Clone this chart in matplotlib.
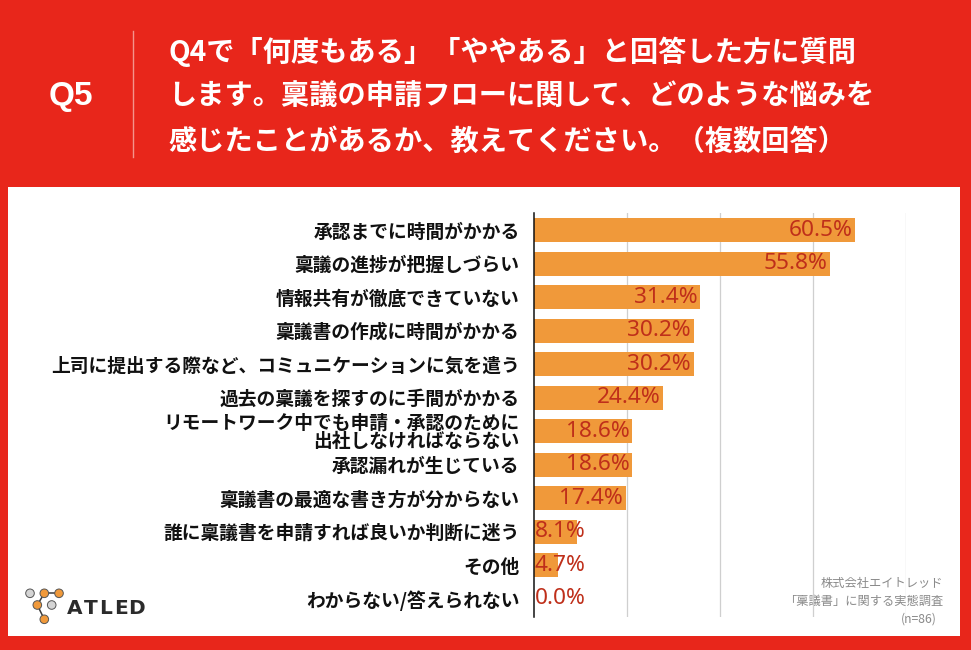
import matplotlib
matplotlib.use("Agg")
import matplotlib.pyplot as plt
from matplotlib.patches import Rectangle, Circle

plt.rcParams['font.family'] = ['Noto Sans CJK JP', 'DejaVu Sans']

categories = [
    "承認までに時間がかかる",
    "稟議の進捗が把握しづらい",
    "情報共有が徹底できていない",
    "稟議書の作成に時間がかかる",
    "上司に提出する際など、コミュニケーションに気を遣う",
    "過去の稟議を探すのに手間がかかる",
    "リモートワーク中でも申請・承認のために\n出社しなければならない",
    "承認漏れが生じている",
    "稟議書の最適な書き方が分からない",
    "誰に稟議書を申請すれば良いか判断に迷う",
    "その他",
    "わからない/答えられない",
]
values = [60.5, 55.8, 31.4, 30.2, 30.2, 24.4, 18.6, 18.6, 17.4, 8.1, 4.7, 0.0]
title_lines = [
    "Q4で「何度もある」「ややある」と回答した方に質問",
    "します。稟議の申請フローに関して、どのような悩みを",
    "感じたことがあるか、教えてください。（複数回答）",
]
source_lines = ["株式会社エイトレッド", "「稟議書」に関する実態調査", "(n=86)"]

W, H = 971, 650
RED = '#e8261b'
ORANGE = '#f0993a'
VAL_COLOR = '#bf2f1a'

fig = plt.figure(figsize=(W / 100, H / 100), dpi=100, facecolor=RED)

# background / decoration layer in pixel coordinates
bg = fig.add_axes([0, 0, 1, 1], zorder=0)
bg.set_xlim(0, W)
bg.set_ylim(H, 0)
bg.axis('off')
bg.add_patch(Rectangle((0, 0), W, H, facecolor=RED, edgecolor='none'))
bg.add_patch(Rectangle((8, 187), 952, 449, facecolor='white', edgecolor='none'))

# header
bg.text(71, 96, "Q5", color='white', fontsize=24, fontweight='bold',
        ha='center', va='center', family=['Liberation Sans', 'DejaVu Sans'])
bg.plot([133, 133], [31, 157], color='#f4948c', lw=1.0)
for i, line in enumerate(title_lines):
    bg.text(168, 52 + i * 45, line, color='white', fontsize=20.3,
            fontweight='bold', ha='left', va='center')

# logo
dark = '#3a3a3a'
bg.plot([44.3, 59], [593.3, 593.3], color=dark, lw=1.1, zorder=2)
bg.plot([44.3, 37.3, 44.3], [593.3, 605, 619.3], color=dark, lw=1.1, zorder=2)
for (cx, cy, fc) in [(30, 593.3, '#d4d4d4'), (44.3, 593.3, ORANGE), (59, 593.3, ORANGE),
                     (37.3, 605, ORANGE), (51.7, 605, '#d4d4d4'), (44.3, 619.3, ORANGE)]:
    bg.add_patch(Circle((cx, cy), 4.3, facecolor=fc, edgecolor='#555555', lw=0.7, zorder=3))
for i, ch in enumerate("ATLED"):
    bg.text(75 + i * 15.4, 609, ch, color='#2b2b2b', fontsize=14.5,
            ha='center', va='center', family=['DejaVu Sans'], fontweight='semibold')

# chart axes
x0, x1 = 533.5, 905.7
y0, y1 = 213, 617
ax = fig.add_axes([x0 / W, 1 - y1 / H, (x1 - x0) / W, (y1 - y0) / H], zorder=1)
ax.patch.set_alpha(0)
pos = list(range(len(categories)))
ax.barh(pos, values, height=0.72, color=ORANGE, zorder=2)
ax.set_xlim(0, 70)
ax.set_ylim(11.55, -0.51)
ax.set_xticks([17.5, 35, 52.5, 70])
ax.set_xticklabels([])
ax.tick_params(axis='x', length=0)
ax.grid(axis='x', color='#cfcfcf', lw=0.9, zorder=0)
ax.set_axisbelow(True)
for s in ['top', 'right', 'bottom']:
    ax.spines[s].set_visible(False)
ax.spines['left'].set_color('#111111')
ax.spines['left'].set_linewidth(1.1)
ax.spines['left'].set_zorder(3)
ax.set_yticks(pos)
ax.set_yticklabels(categories, fontsize=13.5, fontweight='bold', color='#111111')
for t in ax.get_yticklabels():
    t.set_linespacing(0.95)
ax.tick_params(axis='y', length=0, pad=10)

vfont = dict(color=VAL_COLOR, fontsize=16.3, family=['Noto Sans', 'DejaVu Sans'],
             fontweight='medium', zorder=4, va='center')
for p, v in zip(pos, values):
    label = f"{v:.1f}%"
    if v >= 12:
        ax.annotate(label, (v, p), xytext=(-2.2, 0), textcoords='offset points',
                    ha='right', **vfont)
    else:
        ax.annotate(label, (0, p), xytext=(1.0, 0), textcoords='offset points',
                    ha='left', **vfont)

# source note
for i, (s, xr) in enumerate(zip(source_lines, [943, 943, 937])):
    bg.text(xr, 583 + i * 18, s, color='#8a8a8a', fontsize=8.8,
            ha='right', va='center', zorder=5)

fig.savefig("out.png", dpi=100, facecolor=RED)
